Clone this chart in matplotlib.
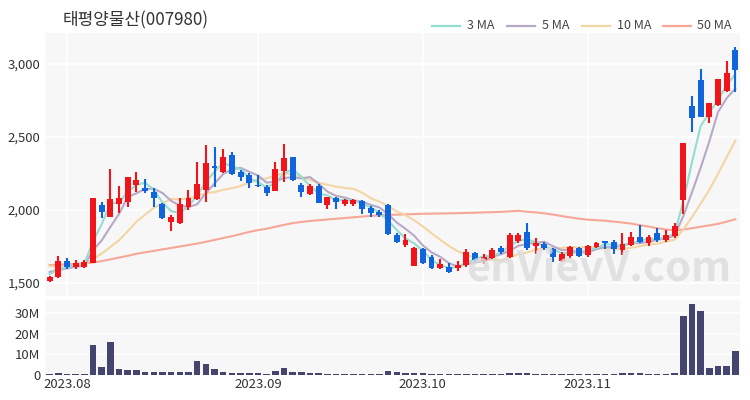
import matplotlib
matplotlib.use("Agg")
import matplotlib.pyplot as plt
from matplotlib.lines import Line2D
import numpy as np
import pandas as pd

title = "태평양물산(007980)"
month_labels = ["2023.08", "2023.09", "2023.10", "2023.11"]
month_idx = [2, 24, 43, 62]

opens = [1516, 1543, 1651, 1612, 1612, 1635, 2034, 1954, 2041, 2057,
         2171, 2150, 2125, 2041, 1920, 1913, 2023, 2075, 2137, 2300,
         2262, 2377, 2262, 2240, 2171, 2160, 2132, 2269, 2361, 2171,
         2108, 2164, 2034, 2080, 2041, 2041, 2060, 2012, 1986, 2034,
         1829, 1760, 1619, 1733, 1680, 1600, 1612, 1600, 1623, 1708,
         1650, 1669, 1740, 1680, 1790, 1851, 1753, 1767, 1730, 1650,
         1685, 1737, 1692, 1744, 1787, 1783, 1726, 1760, 1813, 1772,
         1844, 1794, 1822, 2068, 2712, 2890, 2639, 2719, 2817, 3096]
highs = [1548, 1685, 1669, 1660, 1655, 2084, 2057, 2279, 2164, 2228,
         2262, 2210, 2148, 2050, 1966, 2080, 2137, 2330, 2445, 2430,
         2416, 2395, 2274, 2251, 2240, 2171, 2331, 2452, 2365, 2183,
         2175, 2180, 2091, 2091, 2077, 2077, 2068, 2030, 2000, 2041,
         1844, 1836, 1745, 1740, 1690, 1662, 1635, 1653, 1730, 1714,
         1699, 1740, 1755, 1840, 1844, 1909, 1806, 1783, 1738, 1710,
         1753, 1747, 1760, 1783, 1787, 1794, 1845, 1851, 1897, 1829,
         1875, 1863, 1908, 2460, 2783, 2964, 2735, 2897, 3020, 3118]
lows = [1505, 1534, 1594, 1597, 1600, 1635, 1943, 1950, 1977, 2018,
        2125, 2115, 2023, 1937, 1858, 1906, 2000, 2065, 2057, 2160,
        2251, 2240, 2200, 2149, 2160, 2096, 2132, 2194, 2200, 2087,
        2100, 2045, 2005, 2005, 2027, 2030, 1975, 1950, 1954, 1830,
        1772, 1745, 1616, 1630, 1598, 1594, 1570, 1584, 1610, 1646,
        1630, 1664, 1700, 1673, 1772, 1726, 1700, 1726, 1646, 1646,
        1669, 1680, 1680, 1738, 1730, 1700, 1692, 1753, 1772, 1753,
        1783, 1783, 1808, 1973, 2536, 2635, 2598, 2710, 2810, 2810]
closes = [1543, 1653, 1612, 1639, 1642, 2080, 1984, 2075, 2084, 2224,
          2205, 2132, 2080, 1943, 1954, 2041, 2080, 2180, 2320, 2285,
          2365, 2245, 2228, 2183, 2162, 2118, 2279, 2354, 2205, 2125,
          2164, 2050, 2087, 2057, 2068, 2068, 2005, 1977, 1968, 1836,
          1783, 1794, 1738, 1635, 1600, 1630, 1577, 1623, 1710, 1658,
          1680, 1726, 1710, 1829, 1829, 1738, 1776, 1738, 1676, 1699,
          1744, 1685, 1753, 1776, 1772, 1730, 1767, 1813, 1783, 1817,
          1794, 1829, 1890, 2457, 2632, 2635, 2731, 2895, 2936, 2959]
volumes_m = [0.3, 1.1, 0.3, 0.3, 0.3, 14.5, 3.7, 16.1, 3.1, 2.4,
             2.4, 1.6, 1.6, 1.6, 1.3, 1.3, 1.5, 6.8, 5.3, 3.1,
             1.6, 1.1, 1.0, 1.0, 1.0, 0.5, 1.9, 3.6, 1.6, 1.6,
             1.0, 0.8, 0.6, 0.6, 0.5, 0.5, 0.5, 0.5, 0.5, 1.9,
             1.3, 0.8, 0.8, 0.8, 0.6, 0.5, 0.6, 0.3, 0.5, 0.5,
             0.5, 0.5, 0.3, 1.0, 1.0, 1.0, 0.5, 0.3, 0.3, 0.3,
             0.3, 0.3, 0.3, 0.3, 0.3, 0.5, 1.1, 0.8, 0.8, 0.5,
             0.5, 0.6, 0.8, 28.5, 34.3, 31.1, 3.2, 4.3, 4.3, 11.6]

ma3_head = [1560, 1600]
ma5_head = [1575, 1590, 1600, 1612]
ma10_head = [1615, 1618, 1617, 1619, 1622, 1665, 1701, 1747, 1793]
ma50_head = [1623, 1625, 1628, 1631, 1635, 1640, 1650, 1662, 1674, 1686,
             1700, 1710, 1720, 1730, 1740, 1750, 1760, 1770, 1782, 1795,
             1808, 1820, 1835, 1850, 1862, 1872, 1885, 1898, 1910, 1918,
             1925, 1930, 1935, 1940, 1945, 1950, 1955, 1960, 1963, 1966,
             1968, 1970, 1972, 1974, 1975, 1976, 1977, 1978, 1980]

RED = "#f2141b"
BLUE = "#1064dc"
VOLC = "#44456e"
MA_COLORS = {"3 MA": "#93ddd1", "5 MA": "#b8a9c8", "10 MA": "#f4d5a4", "50 MA": "#f7a797"}
BG = "#f7f7f7"
TXT = "#333333"
FONT = ["Noto Sans CJK KR", "DejaVu Sans"]
plt.rcParams["font.family"] = FONT

n = len(closes)
x = np.arange(n)
cl = pd.Series(closes, dtype=float)


def ma(window, head):
    s = cl.rolling(window).mean().to_numpy()
    s[: len(head)] = head
    return s


ma3 = ma(3, ma3_head)
ma5 = ma(5, ma5_head)
ma10 = ma(10, ma10_head)
ma50 = ma(50, ma50_head)

fig = plt.figure(figsize=(7.5, 4.0), dpi=100)
ax = fig.add_axes([0.06, 0.26, 0.9267, 0.6575])
axv = fig.add_axes([0.06, 0.0625, 0.9267, 0.1875], sharex=ax)

for a in (ax, axv):
    a.set_facecolor(BG)
    for s in a.spines.values():
        s.set_visible(False)
    a.tick_params(length=0, colors=TXT, labelsize=9.5)
    a.set_axisbelow(True)

# MA lines
for lbl, arr in [("50 MA", ma50), ("10 MA", ma10), ("5 MA", ma5), ("3 MA", ma3)]:
    ax.plot(x, arr, color=MA_COLORS[lbl], lw=1.5, zorder=2)

o = np.array(opens, float); c = np.array(closes, float)
h = np.array(highs, float); l = np.array(lows, float)
up = c >= o
cols = np.where(up, RED, BLUE)
body_lo = np.minimum(o, c)
body_h = np.maximum(np.abs(c - o), 6)
ax.vlines(x, l, h, colors=cols, lw=1.5, zorder=3)
ax.bar(x, body_h, bottom=body_lo, width=0.68, color=cols, zorder=4, linewidth=0)

ax.set_xlim(-0.53, 79.54)
ax.set_ylim(1411, 3212)
ax.set_yticks([1500, 2000, 2500, 3000])
ax.set_yticklabels(["1,500", "2,000", "2,500", "3,000"])
ax.yaxis.grid(True, color="white", lw=1.2)
ax.set_xticks([16, 32, 48, 64])
ax.xaxis.grid(True, color="white", lw=1.2)
ax.tick_params(axis="x", labelbottom=False)

axv.bar(x, np.array(volumes_m) * 1e6, width=0.75, color=VOLC, zorder=3, linewidth=0)
axv.set_ylim(0, 36.2e6)
axv.set_yticks([0, 10e6, 20e6, 30e6])
axv.set_yticklabels(["0", "10M", "20M", "30M"])
axv.yaxis.grid(True, color="white", lw=1.2)
axv.xaxis.grid(False)
axv.set_xticks(month_idx)
axv.set_xticklabels(month_labels)
axv.tick_params(axis="x", pad=2)

fig.text(0.084, 0.948, title, fontsize=12.2, color=TXT, va="center", ha="left")

leg = [("3 MA", 0.576, 0.623), ("5 MA", 0.676, 0.723), ("10 MA", 0.776, 0.823), ("50 MA", 0.884, 0.929)]
for lbl, x0, tx in leg:
    fig.add_artist(Line2D([x0, x0 + 0.037], [0.936, 0.936], color=MA_COLORS[lbl], lw=1.6, transform=fig.transFigure))
    fig.text(tx, 0.936, lbl, fontsize=9, color="#444444", va="center", ha="left")

fig.text(0.975, 0.325, "enVievV.com", fontsize=30, color="#dcdcdc", alpha=0.8, ha="right", va="center", fontweight="bold", zorder=10)

fig.savefig("out.png", dpi=100, facecolor="white")
